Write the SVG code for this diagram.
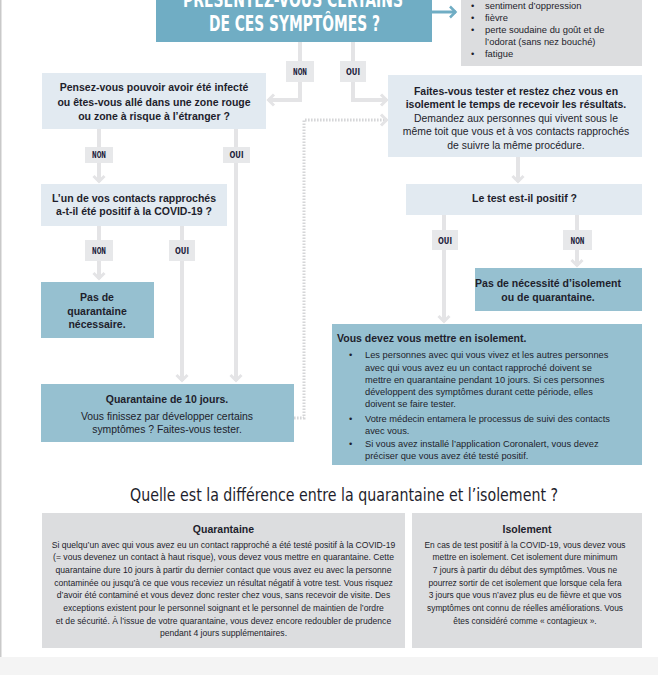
<svg xmlns="http://www.w3.org/2000/svg" width="658" height="675" viewBox="0 0 658 675">
<style>
.t{font-family:"Liberation Sans",Arial,sans-serif;fill:#1e1e2c}
.b{font-weight:bold;font-size:10.5px}
.r{font-size:10.4px}
.s{font-size:9.3px}
.x{font-size:8.4px}
.xq{font-size:8.6px}
.c{text-anchor:middle}
.lab{font-family:"DejaVu Sans Condensed","DejaVu Sans",sans-serif;font-weight:bold;font-size:8px;fill:#1b1b3a}
.lbox{fill:#e7e8ea}
.con{fill:none;stroke:#e4e4e6;stroke-width:4}
.light{fill:#e2eaf1}
.mid{fill:#96c0d0}
.grey{fill:#dcdddf}
.ttl{font-family:"DejaVu Sans Condensed","DejaVu Sans",sans-serif;font-weight:bold;font-size:21px;fill:#ffffff}
</style>
<defs>
<marker id="ah" viewBox="0 0 14 14" refX="11.5" refY="7" markerWidth="14" markerHeight="14" markerUnits="userSpaceOnUse" orient="auto">
<path d="M5.5,1.5 L11,7 L5.5,12.5" fill="none" stroke="#e4e4e6" stroke-width="3"/>
</marker>
<marker id="ahb" viewBox="0 0 14 14" refX="11.5" refY="7" markerWidth="14" markerHeight="14" markerUnits="userSpaceOnUse" orient="auto">
<path d="M5.5,1.5 L11,7 L5.5,12.5" fill="none" stroke="#70adc4" stroke-width="2.5"/>
</marker>
</defs>
<rect x="0" y="0" width="658" height="675" fill="#ffffff"/>
<rect x="0" y="0" width="1.5" height="657" fill="#c9c9c9"/>
<rect x="0" y="657" width="658" height="18" fill="#f4f4f4"/>

<g id="connectors">
<path class="con" d="M300,42 V100 H268" marker-end="url(#ah)"/>
<path class="con" d="M353,42 V100 H387" marker-end="url(#ah)"/>
<path class="con" d="M99,129 V182" marker-end="url(#ah)"/>
<path class="con" d="M236,129 V381" marker-end="url(#ah)"/>
<path class="con" d="M99,226 V279" marker-end="url(#ah)"/>
<path class="con" d="M182,226 V381" marker-end="url(#ah)"/>
<path class="con" d="M518,157 V182" marker-end="url(#ah)"/>
<path class="con" d="M444,215 V322" marker-end="url(#ah)"/>
<path class="con" d="M577,215 V266" marker-end="url(#ah)"/>
<path d="M294,418 H304 V120 H387" fill="none" stroke="#d5d6d8" stroke-width="3" stroke-dasharray="1.6 1.4" marker-end="url(#ah)"/>
<path d="M432,12 H456" fill="none" stroke="#70adc4" stroke-width="3" marker-end="url(#ahb)"/>
<g id="labels">
<rect class="lbox" x="286" y="61" width="28" height="21"/><text class="lab" x="293" y="75" textLength="14" lengthAdjust="spacingAndGlyphs">NON</text>
<rect class="lbox" x="340" y="61" width="26" height="21"/><text class="lab" x="346" y="75" textLength="14" lengthAdjust="spacingAndGlyphs">OUI</text>
<rect class="lbox" x="85" y="147" width="28" height="16"/><text class="lab" x="92" y="158" textLength="14" lengthAdjust="spacingAndGlyphs">NON</text>
<rect class="lbox" x="223" y="147" width="27" height="16"/><text class="lab" x="229.5" y="158" textLength="14" lengthAdjust="spacingAndGlyphs">OUI</text>
<rect class="lbox" x="85" y="240" width="28" height="21"/><text class="lab" x="92" y="254" textLength="14" lengthAdjust="spacingAndGlyphs">NON</text>
<rect class="lbox" x="169" y="240" width="26" height="21"/><text class="lab" x="175" y="254" textLength="14" lengthAdjust="spacingAndGlyphs">OUI</text>
<rect class="lbox" x="432" y="230" width="26" height="20"/><text class="lab" x="438" y="243.5" textLength="14" lengthAdjust="spacingAndGlyphs">OUI</text>
<rect class="lbox" x="563" y="230" width="29" height="20"/><text class="lab" x="570.5" y="243.5" textLength="14" lengthAdjust="spacingAndGlyphs">NON</text>
</g>
</g>

<g id="title">
<rect x="156" y="0" width="276" height="42" fill="#70adc4"/>
<text class="ttl" transform="translate(183,7) scale(0.73,1)" x="0" y="0" textLength="301.4" lengthAdjust="spacingAndGlyphs">PRÉSENTEZ-VOUS CERTAINS</text>
<text class="ttl" transform="translate(209,31) scale(0.73,1)" x="0" y="0" textLength="234.2" lengthAdjust="spacingAndGlyphs">DE CES SYMPTÔMES ?</text>
</g>

<g id="symptoms">
<rect class="grey" x="461" y="0" width="181" height="66"/>
<g class="t" font-size="9.4px">
<text x="471" y="8.5">•<tspan x="485">sentiment d’oppression</tspan></text>
<text x="471" y="20.5">•<tspan x="485">fièvre</tspan></text>
<text x="471" y="32.6">•<tspan x="485">perte soudaine du goût et de</tspan></text>
<text x="485" y="44.7">l’odorat (sans nez bouché)</text>
<text x="471" y="56.8">•<tspan x="485">fatigue</tspan></text>
</g>
</g>

<g id="infected">
<rect class="light" x="42" y="73" width="224" height="56"/>
<text class="t b c" x="154" y="91">Pensez-vous pouvoir avoir été infecté</text>
<text class="t b c" x="154" y="105.5">ou êtes-vous allé dans une zone rouge</text>
<text class="t b c" x="154" y="120">ou zone à risque à l’étranger ?</text>
</g>

<g id="contact">
<rect class="light" x="41" y="184" width="186" height="42"/>
<text class="t b c" x="134" y="201.5">L’un de vos contacts rapprochés</text>
<text class="t b c" x="134" y="215">a-t-il été positif à la COVID-19 ?</text>
</g>

<g id="no-quarantine">
<rect class="mid" x="41" y="282" width="113" height="56"/>
<text class="t b c" x="97" y="301">Pas de</text>
<text class="t b c" x="97" y="314.5">quarantaine</text>
<text class="t b c" x="97" y="328">nécessaire.</text>
</g>

<g id="quarantine10">
<rect class="mid" x="41" y="384" width="253" height="58"/>
<text class="t b c" x="167" y="403">Quarantaine de 10 jours.</text>
<text class="t r c" x="167" y="419.5">Vous finissez par développer certains</text>
<text class="t r c" x="167" y="432.5">symptômes ? Faites-vous tester.</text>
</g>

<g id="get-tested">
<rect class="light" x="388" y="75" width="254" height="82"/>
<text class="t b c" x="516" y="94.5">Faites-vous tester et restez chez vous en</text>
<text class="t b c" x="516" y="108">isolement le temps de recevoir les résultats.</text>
<text class="t r c" x="516" y="121.5">Demandez aux personnes qui vivent sous le</text>
<text class="t r c" x="516" y="135">même toit que vous et à vos contacts rapprochés</text>
<text class="t r c" x="516" y="148.5">de suivre la même procédure.</text>
</g>

<g id="test-positive">
<rect class="light" x="406" y="184" width="236" height="31"/>
<text class="t b c" x="524.5" y="202">Le test est-il positif ?</text>
</g>

<g id="no-isolation">
<rect class="mid" x="475" y="268" width="167" height="43"/>
<text class="t b c" x="548" y="287">Pas de nécessité d’isolement</text>
<text class="t b c" x="548" y="300.5">ou de quarantaine.</text>
</g>

<g id="isolation">
<rect class="mid" x="332" y="324" width="310" height="141"/>
<text class="t b" x="337" y="342">Vous devez vous mettre en isolement.</text>
<g class="t s">
<text x="349" y="358">•<tspan x="365">Les personnes avec qui vous vivez et les autres personnes</tspan></text>
<text x="365" y="370.5">avec qui vous avez eu un contact rapproché doivent se</text>
<text x="365" y="383">mettre en quarantaine pendant 10 jours. Si ces personnes</text>
<text x="365" y="395">développent des symptômes durant cette période, elles</text>
<text x="365" y="407">doivent se faire tester.</text>
<text x="349" y="422">•<tspan x="365">Votre médecin entamera le processus de suivi des contacts</tspan></text>
<text x="365" y="434">avec vous.</text>
<text x="349" y="446.5">•<tspan x="365">Si vous avez installé l’application Coronalert, vous devez</tspan></text>
<text x="365" y="458.5">préciser que vous avez été testé positif.</text>
</g>
</g>

<text x="130" y="500.5" font-family="DejaVu Sans Condensed, DejaVu Sans, sans-serif" font-size="17.5" fill="#1e1e2c" textLength="428" lengthAdjust="spacingAndGlyphs">Quelle est la différence entre la quarantaine et l’isolement ?</text>

<g id="quarantaine-def">
<rect class="grey" x="42" y="513" width="363" height="135"/>
<text class="t b c" x="223.5" y="533">Quarantaine</text>
<g class="t xq c">
<text x="223.5" y="547.5">Si quelqu’un avec qui vous avez eu un contact rapproché a été testé positif à la COVID-19</text>
<text x="223.5" y="560.2">(= vous devenez un contact à haut risque), vous devez vous mettre en quarantaine. Cette</text>
<text x="223.5" y="572.9">quarantaine dure 10 jours à partir du dernier contact que vous avez eu avec la personne</text>
<text x="223.5" y="585.6">contaminée ou jusqu’à ce que vous receviez un résultat négatif à votre test. Vous risquez</text>
<text x="223.5" y="598.3">d’avoir été contaminé et vous devez donc rester chez vous, sans recevoir de visite. Des</text>
<text x="223.5" y="611">exceptions existent pour le personnel soignant et le personnel de maintien de l’ordre</text>
<text x="223.5" y="623.7">et de sécurité. À l’issue de votre quarantaine, vous devez encore redoubler de prudence</text>
<text x="223.5" y="636.4">pendant 4 jours supplémentaires.</text>
</g>
</g>

<g id="isolement-def">
<rect class="grey" x="412" y="513" width="230" height="135"/>
<text class="t b c" x="527" y="533">Isolement</text>
<g class="t x c">
<text x="525" y="547.5">En cas de test positif à la COVID-19, vous devez vous</text>
<text x="525" y="560.2">mettre en isolement. Cet isolement dure minimum</text>
<text x="525" y="572.9">7 jours à partir du début des symptômes. Vous ne</text>
<text x="525" y="585.6">pourrez sortir de cet isolement que lorsque cela fera</text>
<text x="525" y="598.3">3 jours que vous n’avez plus eu de fièvre et que vos</text>
<text x="525" y="611">symptômes ont connu de réelles améliorations. Vous</text>
<text x="525" y="623.7">êtes considéré comme « contagieux ».</text>
</g>
</g>
</svg>
